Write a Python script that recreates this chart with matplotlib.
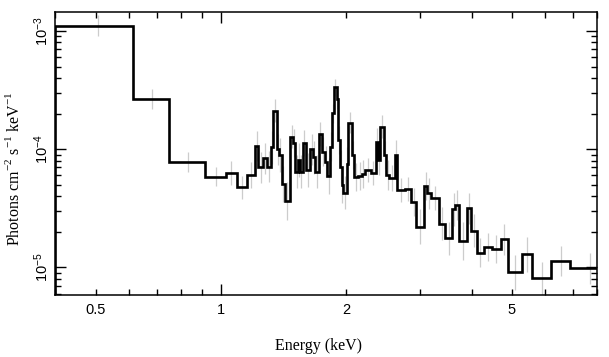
import numpy as np
import matplotlib
matplotlib.use('Agg')
import matplotlib.pyplot as plt
from matplotlib.ticker import FixedLocator, FixedFormatter, NullFormatter

plt.rcParams['mathtext.fontset'] = 'custom'
plt.rcParams['mathtext.rm'] = 'Liberation Serif'
plt.rcParams['mathtext.sf'] = 'Liberation Sans'

# bin edges (keV) of the folded model
edges = [0.40, 0.613, 0.751, 0.915, 1.027, 1.090, 1.157, 1.206, 1.229, 1.259,
         1.287, 1.318, 1.335, 1.360, 1.380, 1.398, 1.424, 1.464, 1.491, 1.509,
         1.530, 1.547, 1.571, 1.600, 1.635, 1.665, 1.681, 1.719, 1.748, 1.777,
         1.797, 1.827, 1.847, 1.865, 1.896, 1.910, 1.931, 1.949, 1.963, 2.004,
         2.018, 2.060, 2.086, 2.133, 2.181, 2.217, 2.292, 2.356, 2.382, 2.415,
         2.470, 2.497, 2.539, 2.617, 2.653, 2.766, 2.868, 2.940, 3.073, 3.130,
         3.189, 3.344, 3.451, 3.594, 3.648, 3.735, 3.892, 3.986, 4.113, 4.290,
         4.469, 4.698, 4.898, 5.276, 5.594, 6.193, 6.891, 8.50]

# photons cm^-2 s^-1 keV^-1 in each bin
flux = [1.109e-3, 2.642e-4, 7.74e-5, 5.85e-5, 6.25e-5, 4.74e-5, 6.04e-5, 1.063e-4,
        7.02e-5, 8.37e-5, 7.10e-5, 1.037e-4, 2.116e-4, 9.97e-5, 8.92e-5, 5.07e-5,
        3.64e-5, 1.275e-4, 1.121e-4, 6.41e-5, 8.09e-5, 6.44e-5, 1.134e-4, 6.66e-5,
        9.97e-5, 8.53e-5, 6.44e-5, 1.343e-4, 9.52e-5, 7.83e-5, 5.93e-5, 1.049e-4,
        2.011e-4, 3.338e-4, 2.642e-4, 1.195e-4, 7.10e-5, 4.97e-5, 4.28e-5, 7.49e-5,
        1.674e-4, 8.92e-5, 5.78e-5, 5.93e-5, 6.16e-5, 6.66e-5, 6.25e-5, 1.143e-4,
        8.09e-5, 1.549e-4, 8.92e-5, 6.04e-5, 5.67e-5, 8.92e-5, 4.51e-5, 4.57e-5,
        3.59e-5, 2.21e-5, 4.90e-5, 4.23e-5, 3.84e-5, 2.33e-5, 1.76e-5, 3.11e-5,
        3.37e-5, 1.68e-5, 3.16e-5, 2.04e-5, 1.33e-5, 1.48e-5, 1.42e-5, 1.73e-5,
        9.07e-6, 1.29e-5, 8.07e-6, 1.13e-5, 9.80e-6]

# half length of the grey error bars, in dex
err_dex = [0.09, 0.085, 0.085, 0.08, 0.1, 0.1, 0.11, 0.13, 0.13, 0.13,
           0.13, 0.14, 0.1, 0.13, 0.14, 0.15, 0.16, 0.1, 0.12, 0.14,
           0.14, 0.14, 0.11, 0.14, 0.13, 0.14, 0.14, 0.1, 0.12, 0.13,
           0.15, 0.12, 0.08, 0.07, 0.08, 0.12, 0.14, 0.15, 0.14, 0.14,
           0.09, 0.12, 0.12, 0.12, 0.12, 0.1, 0.1, 0.12, 0.13, 0.1,
           0.12, 0.13, 0.11, 0.13, 0.1, 0.1, 0.12, 0.15, 0.12, 0.13,
           0.1, 0.14, 0.14, 0.14, 0.13, 0.16, 0.13, 0.14, 0.12, 0.12,
           0.12, 0.13, 0.15, 0.15, 0.14, 0.13, 0.13]

e = np.array(edges)
f = np.array(flux)
d = np.array(err_dex)
centres = 0.5 * (e[:-1] + e[1:])
lo = f - f * 10**(-d)
hi = f * 10**d - f

fig = plt.figure(figsize=(6.09, 3.57), dpi=100)
ax = fig.add_axes([0.0911, 0.1737, 0.889, 0.792])

ax.errorbar(centres, f, yerr=[lo, hi], fmt='none', ecolor='#cccccc',
            elinewidth=0.9, capsize=0, zorder=1)
ax.stairs(f, e, color='black', linewidth=1.9, zorder=2)

ax.set_xscale('log')
ax.set_yscale('log')
ax.set_xlim(0.4, 8.0)
ax.set_ylim(5.83e-6, 1.44e-3)

# x ticks: 1 keV is the long one, 0.5, 2 and 5 get labels
xminor = [0.4, 0.5, 0.6, 0.7, 0.8, 0.9, 2, 3, 4, 5, 6, 7, 8]
ax.xaxis.set_major_locator(FixedLocator([1]))
ax.xaxis.set_major_formatter(FixedFormatter(['1']))
ax.xaxis.set_minor_locator(FixedLocator(xminor))
ax.xaxis.set_minor_formatter(FixedFormatter(
    ['', '0.5', '', '', '', '', '2', '', '', '5', '', '', '']))

ydec = [1e-5, 1e-4, 1e-3]
yminor = [m * 10.0**p for p in (-6, -5, -4, -3) for m in range(2, 10)]
ax.yaxis.set_major_locator(FixedLocator(ydec))
ax.yaxis.set_major_formatter(FixedFormatter(
    [r'$\mathsf{10^{-5}}$', r'$\mathsf{10^{-4}}$', r'$\mathsf{10^{-3}}$']))
ax.yaxis.set_minor_locator(FixedLocator(yminor))
ax.yaxis.set_minor_formatter(NullFormatter())

ax.tick_params(which='both', direction='in', top=True, right=True,
               width=1.0, labelsize=10.5)
ax.tick_params(axis='x', which='both', pad=6)
ax.tick_params(axis='y', which='both', pad=3.5)
ax.tick_params(which='major', length=8)
ax.tick_params(which='minor', length=4.5)
for lab in ax.get_xticklabels(minor=True) + ax.get_xticklabels():
    lab.set_family('Liberation Sans')
for lab in ax.get_yticklabels():
    lab.set_rotation(90)
    lab.set_va('center')

for s in ax.spines.values():
    s.set_linewidth(1.1)

ax.set_xlabel('Energy (keV)', family='Liberation Serif', fontsize=11.5)
ax.set_ylabel(r'Photons cm$^{-2}$ s$^{-1}$ keV$^{-1}$', family='Liberation Serif',
              fontsize=11.5)
ax.xaxis.set_label_coords(0.486, -0.153)
ax.yaxis.set_label_coords(-0.060, 0.4475)

fig.savefig('out.png', dpi=100)
